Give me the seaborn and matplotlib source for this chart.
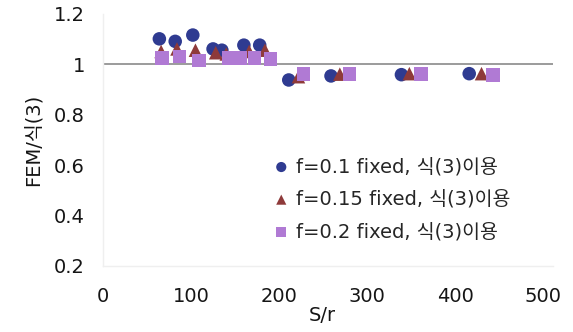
import matplotlib
matplotlib.use("Agg")
import matplotlib.pyplot as plt
import seaborn as sns
import pandas as pd

# FEM / Eq.(3) ratio against S/r for three fixed f values
sr_f010 = [64, 82, 102, 125, 135, 160, 178, 211, 259, 339, 416]
fem_f010 = [1.10, 1.09, 1.115, 1.06, 1.055, 1.075, 1.075, 0.937, 0.953, 0.958, 0.962]
sr_f015 = [66, 84, 105, 128, 140, 166, 184, 222, 269, 348, 430]
fem_f015 = [1.05, 1.06, 1.055, 1.045, 1.04, 1.05, 1.055, 0.95, 0.96, 0.962, 0.962]
sr_f020 = [67, 87, 109, 143, 156, 172, 190, 228, 280, 361, 443]
fem_f020 = [1.025, 1.03, 1.015, 1.025, 1.025, 1.025, 1.02, 0.96, 0.96, 0.96, 0.957]

series_labels = ["f=0.1 fixed, 식(3)이용", "f=0.15 fixed, 식(3)이용", "f=0.2 fixed, 식(3)이용"]
x_ticks = [0, 100, 200, 300, 400, 500]
y_ticks = [0.2, 0.4, 0.6, 0.8, 1.0, 1.2]
y_tick_labels = ["0.2", "0.4", "0.6", "0.8", "1", "1.2"]

sns.set_style("white")
plt.rcParams["font.family"] = ["DejaVu Sans", "Noto Sans CJK KR"]

frames = []
for lab, xs, ys in zip(series_labels,
                       [sr_f010, sr_f015, sr_f020],
                       [fem_f010, fem_f015, fem_f020]):
    frames.append(pd.DataFrame({"S/r": xs, "ratio": ys, "series": lab}))
df = pd.concat(frames, ignore_index=True)

colors = ["#2f3b91", "#8e3a3a", "#b07ad4"]
markers = ["o", "^", "s"]

fig = plt.figure(figsize=(5.73, 3.32), dpi=100)
ax = fig.add_axes([0.1798, 0.199, 0.785, 0.760])

ax.axhline(1.0, color="#8a8a8a", lw=1.2, zorder=1)

for i, lab in enumerate(series_labels):
    sns.scatterplot(data=df[df["series"] == lab], x="S/r", y="ratio",
                    color=colors[i], marker=markers[i], s=95,
                    edgecolor="none", linewidth=0, ax=ax, label=lab,
                    zorder=3 + i)

ax.set_xlim(0, 511)
ax.set_ylim(0.2, 1.2)
ax.set_xticks(x_ticks)
ax.set_yticks(y_ticks)
ax.set_yticklabels(y_tick_labels)
ax.tick_params(axis="x", length=0, pad=15, labelsize=14, colors="#151515")
ax.tick_params(axis="y", length=0, pad=13, labelsize=14, colors="#151515")

for side in ["top", "right"]:
    ax.spines[side].set_visible(False)
for side in ["left", "bottom"]:
    ax.spines[side].set_color("#efefef")
    ax.spines[side].set_linewidth(1.0)

ax.set_xlabel("S/r", fontsize=14, color="#151515")
ax.xaxis.set_label_coords(0.487, -0.16)
ax.set_ylabel("FEM/식(3)", fontsize=14, color="#151515", labelpad=8)

handles, labels = ax.get_legend_handles_labels()
leg = ax.legend(handles, labels, loc="upper left",
                bbox_to_anchor=(0.366, 0.462), frameon=False,
                fontsize=14, handlelength=0.6, handletextpad=0.45,
                labelspacing=0.7, markerscale=0.75, borderaxespad=0)

fig.savefig("out.png", dpi=100)
